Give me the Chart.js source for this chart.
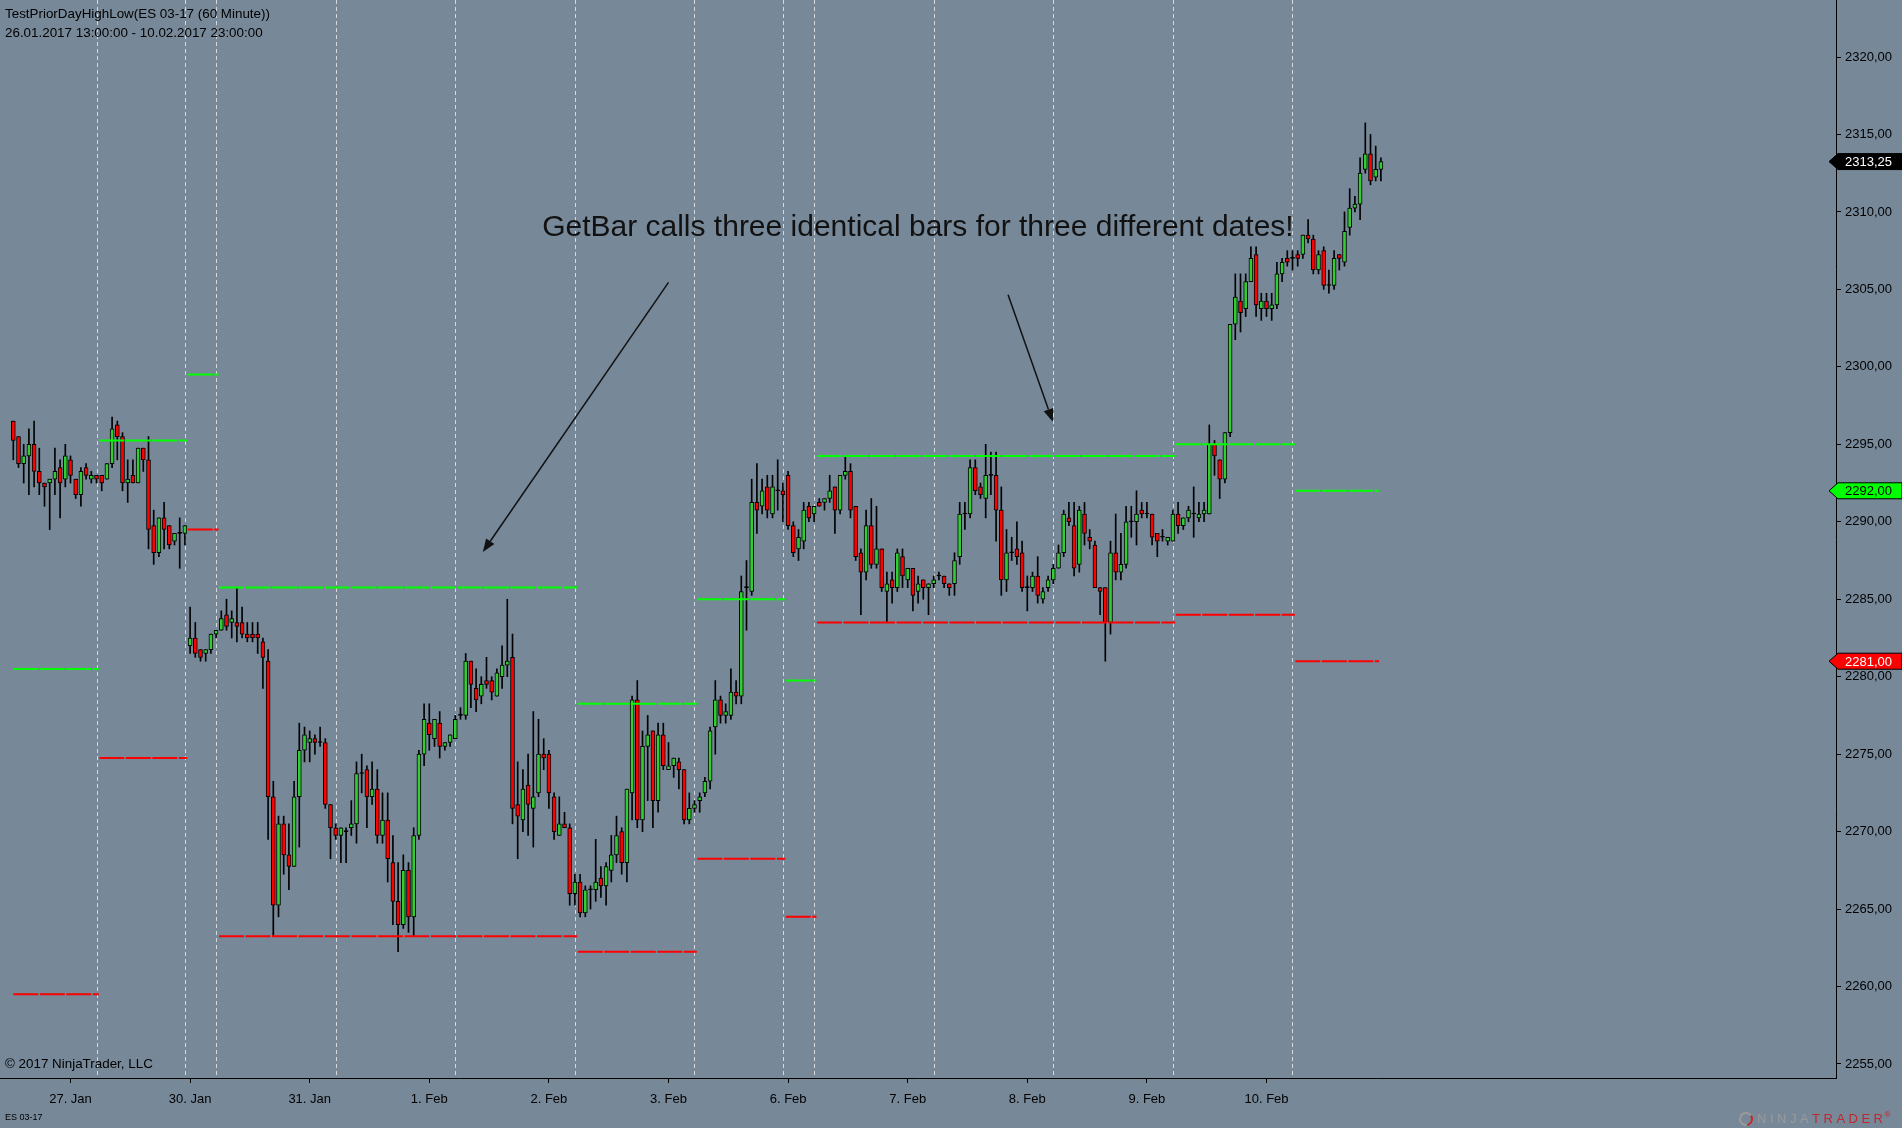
<!DOCTYPE html>
<html><head><meta charset="utf-8">
<script src="https://cdn.jsdelivr.net/npm/chart.js@4.4.1/dist/chart.umd.min.js"></script>
<style>html,body{margin:0;padding:0;background:#778899;overflow:hidden}canvas{display:block}</style>
</head><body>
<canvas id="c" width="1902" height="1128"></canvas>
<script>
// ---- data (ES 03-17, 60 minute bars, 26.01.2017 13:00 - 10.02.2017 23:00) ----
const opens = [
2296.5,2295.5,2293.75,2294.25,2295.0,2293.25,2292.5,2292.5,2292.75,2293.5,
2292.75,2294.0,2292.75,2291.75,2293.5,2292.75,2293.0,2293.0,2292.75,2293.75,
2296.25,2295.5,2292.5,2293.0,2292.5,2294.75,2294.0,2289.75,2288.0,2290.25,
2289.75,2288.75,2289.25,2289.25,2282.0,2282.5,2281.75,2281.5,2281.75,2282.75,
2283.0,2284.0,2283.5,2283.5,2283.5,2282.75,2282.75,2282.75,2282.25,2281.0,
2272.25,2265.25,2270.5,2268.5,2267.75,2272.25,2275.25,2275.75,2276.0,2275.75,
2275.75,2271.75,2270.25,2269.75,2270.0,2270.25,2270.5,2273.75,2274.0,2272.25,
2272.75,2269.75,2270.75,2268.0,2265.5,2264.0,2267.5,2264.5,2269.75,2275.0,
2277.0,2276.0,2277.0,2275.5,2275.75,2276.0,2277.5,2277.5,2281.0,2279.25,
2278.75,2279.75,2279.75,2278.75,2280.0,2280.75,2281.25,2271.75,2270.75,2273.0,
2271.5,2272.5,2275.0,2275.0,2272.25,2269.75,2270.5,2270.25,2266.0,2266.75,
2264.75,2266.25,2266.25,2267.0,2266.5,2267.5,2268.5,2270.0,2268.0,2272.5,
2278.5,2270.75,2275.5,2276.5,2272.0,2276.25,2274.0,2274.25,2274.5,2274.0,
2270.75,2271.5,2272.0,2272.5,2273.25,2276.75,2278.5,2277.5,2277.5,2279.0,
2278.75,2285.75,2285.5,2291.25,2291.0,2292.25,2290.5,2292.0,2292.0,2293.0,
2289.75,2288.25,2288.75,2291.0,2290.5,2291.25,2291.25,2291.5,2292.25,2290.75,
2293.0,2293.25,2291.0,2288.0,2286.75,2289.75,2287.25,2288.25,2285.5,2286.25,
2285.75,2287.75,2286.25,2287.0,2285.5,2286.25,2285.75,2286.0,2286.5,2286.5,
2286.0,2286.0,2287.75,2290.5,2290.5,2293.5,2292.25,2291.5,2293.0,2293.0,
2290.75,2286.25,2288.0,2288.25,2288.0,2285.75,2285.75,2286.5,2285.0,2285.75,
2286.25,2287.0,2288.0,2290.25,2289.75,2287.25,2290.5,2289.0,2288.5,2285.75,
2285.75,2283.5,2288.0,2286.75,2287.25,2290.0,2290.0,2290.75,2290.5,2290.5,
2289.25,2289.0,2288.75,2288.75,2290.5,2289.75,2290.25,2290.5,2290.25,2290.5,
2290.5,2295.0,2294.0,2292.75,2295.75,2302.75,2304.25,2303.75,2305.5,2307.25,
2303.75,2304.25,2303.75,2304.0,2306.0,2307.0,2307.0,2307.25,2307.25,2308.5,
2308.25,2306.25,2307.5,2305.25,2305.25,2307.25,2306.75,2309.0,2310.25,2310.5,
2312.75,2313.75,2312.25,2312.75];
const highs = [
2296.5,2295.5,2295.0,2296.0,2296.5,2294.75,2292.5,2292.75,2294.75,2294.0,
2295.0,2294.25,2292.75,2293.5,2293.75,2293.25,2293.0,2293.0,2293.75,2296.75,
2296.5,2295.75,2294.0,2294.0,2294.75,2294.75,2295.5,2290.75,2290.25,2291.25,
2289.75,2289.25,2290.25,2289.75,2284.5,2283.5,2281.75,2281.75,2282.75,2283.0,
2284.25,2285.0,2284.25,2285.75,2284.5,2283.5,2283.5,2283.5,2282.5,2281.75,
2273.25,2271.0,2271.0,2270.5,2273.25,2277.0,2276.75,2276.5,2276.25,2276.75,
2276.0,2271.75,2270.5,2270.25,2270.25,2272.0,2274.5,2275.0,2274.25,2274.5,
2274.0,2272.5,2272.5,2269.75,2268.0,2268.5,2268.0,2270.25,2275.25,2278.25,
2278.25,2277.25,2277.75,2275.75,2276.25,2277.5,2278.0,2281.5,2281.0,2280.5,
2280.0,2281.25,2280.0,2280.5,2282.0,2285.0,2282.75,2274.5,2274.0,2275.0,
2277.75,2277.25,2276.0,2275.25,2272.5,2272.25,2271.25,2270.5,2267.25,2267.25,
2266.5,2266.5,2269.5,2267.75,2268.0,2269.75,2271.0,2270.25,2272.75,2278.75,
2279.75,2276.5,2277.5,2276.5,2277.0,2277.0,2275.75,2274.75,2274.75,2274.0,
2272.5,2272.0,2272.5,2273.5,2276.75,2279.75,2278.75,2278.25,2280.5,2279.75,
2286.5,2287.5,2292.75,2293.75,2292.75,2293.0,2293.0,2294.0,2292.5,2293.25,
2290.0,2289.5,2291.25,2291.25,2291.0,2291.5,2291.5,2293.0,2292.25,2293.0,
2294.25,2293.75,2291.0,2288.25,2290.75,2291.5,2291.0,2288.25,2286.75,2286.75,
2288.25,2288.25,2287.0,2287.0,2286.5,2286.25,2286.0,2286.5,2286.75,2286.5,
2286.0,2288.0,2291.25,2291.25,2294.0,2294.0,2292.5,2295.0,2294.5,2294.5,
2292.25,2289.5,2289.0,2290.0,2288.75,2286.5,2286.75,2287.75,2285.75,2286.5,
2287.25,2288.5,2290.75,2291.25,2291.25,2291.0,2291.25,2289.5,2288.75,2285.75,
2285.75,2288.75,2290.5,2289.25,2291.0,2291.0,2292.0,2291.25,2291.25,2290.5,
2289.25,2289.5,2289.0,2290.75,2291.25,2290.25,2291.0,2292.25,2291.25,2291.25,
2296.25,2295.25,2294.0,2295.75,2302.75,2306.0,2306.0,2306.0,2307.75,2307.75,
2304.75,2304.75,2304.75,2306.75,2307.0,2307.5,2307.5,2307.5,2308.5,2309.5,
2308.5,2307.5,2307.75,2306.25,2307.5,2307.25,2310.0,2311.5,2311.0,2313.5,
2315.75,2315.0,2314.25,2313.5];
const lows = [
2294.0,2293.5,2292.5,2291.75,2292.25,2291.75,2291.0,2289.5,2291.75,2290.25,
2292.25,2292.5,2291.5,2291.0,2292.75,2292.5,2292.5,2292.0,2292.75,2293.5,
2294.0,2292.0,2291.25,2292.5,2292.5,2293.25,2288.25,2287.25,2287.75,2288.25,
2288.25,2288.5,2287.0,2288.5,2281.5,2281.25,2281.0,2281.0,2281.5,2282.5,
2283.0,2283.0,2282.5,2282.25,2282.5,2282.25,2282.25,2281.5,2279.25,2269.5,
2263.25,2264.5,2267.25,2266.25,2267.75,2269.0,2274.5,2274.5,2275.0,2275.5,
2271.5,2268.25,2269.5,2268.0,2268.0,2269.75,2269.25,2272.5,2270.25,2271.75,
2269.25,2269.25,2266.75,2264.0,2262.25,2263.75,2263.5,2263.25,2269.5,2274.25,
2275.25,2275.5,2274.75,2275.25,2275.5,2276.0,2277.25,2277.25,2278.0,2277.75,
2278.25,2279.25,2278.5,2278.75,2279.25,2280.0,2270.5,2268.25,2270.0,2269.75,
2269.0,2272.25,2274.0,2271.5,2269.5,2269.75,2270.25,2265.25,2265.25,2264.5,
2264.5,2265.0,2265.5,2265.75,2265.25,2266.75,2268.0,2267.25,2266.75,2270.75,
2270.25,2270.0,2272.0,2270.25,2271.25,2274.0,2274.0,2273.5,2272.75,2270.5,
2270.5,2271.25,2271.25,2272.25,2272.75,2275.0,2277.0,2277.0,2277.25,2278.25,
2278.25,2283.0,2285.25,2289.25,2290.5,2290.25,2290.25,2290.75,2290.0,2289.5,
2287.75,2287.5,2288.25,2290.0,2290.0,2291.0,2290.75,2291.25,2289.25,2290.5,
2292.75,2290.25,2287.5,2284.0,2286.25,2287.0,2287.0,2285.5,2283.5,2284.75,
2285.5,2285.75,2285.75,2284.25,2284.75,2285.0,2284.0,2285.75,2286.25,2285.75,
2285.25,2285.25,2287.25,2289.5,2290.25,2291.75,2291.5,2290.25,2291.75,2288.75,
2285.25,2285.5,2287.5,2287.25,2285.5,2284.25,2285.5,2284.75,2284.75,2285.5,
2286.0,2287.0,2287.75,2289.75,2286.5,2286.75,2288.5,2288.25,2285.75,2284.0,
2281.0,2282.75,2286.25,2286.25,2287.0,2289.0,2288.5,2290.25,2290.25,2288.5,
2287.75,2288.75,2288.5,2288.75,2289.25,2289.5,2290.0,2289.0,2290.0,2290.0,
2290.5,2293.0,2291.5,2292.5,2295.5,2301.75,2302.25,2303.25,2305.5,2303.25,
2303.0,2303.25,2303.0,2303.75,2305.5,2306.5,2306.25,2306.5,2307.0,2308.0,
2306.0,2306.0,2305.0,2304.75,2305.0,2306.25,2306.5,2308.5,2310.0,2309.5,
2312.5,2311.75,2312.0,2312.0];
const closes = [
2295.25,2293.75,2294.25,2295.0,2293.25,2292.5,2292.25,2292.75,2293.25,2292.5,
2294.25,2293.0,2291.75,2293.25,2293.0,2293.0,2292.75,2292.5,2293.75,2296.0,
2295.5,2292.5,2292.75,2292.5,2294.75,2294.0,2289.5,2288.0,2290.25,2289.5,
2288.5,2289.25,2289.25,2289.75,2282.5,2281.5,2281.25,2281.75,2282.75,2283.0,
2283.75,2283.25,2283.75,2283.25,2282.75,2282.5,2282.5,2282.5,2281.25,2272.25,
2265.25,2270.5,2268.5,2267.75,2272.25,2275.25,2276.25,2276.0,2275.75,2275.75,
2271.75,2270.25,2269.75,2270.25,2270.0,2270.5,2273.75,2273.75,2272.25,2272.75,
2269.75,2270.75,2268.25,2265.5,2264.0,2267.5,2264.5,2269.75,2275.0,2277.25,
2276.25,2277.25,2275.5,2275.75,2276.25,2277.25,2277.5,2281.0,2279.5,2278.5,
2279.5,2279.5,2279.0,2280.25,2280.75,2281.0,2271.5,2271.0,2272.75,2271.75,
2272.25,2275.0,2274.75,2272.5,2270.0,2270.5,2270.25,2266.0,2266.75,2264.75,
2266.25,2266.25,2266.75,2266.5,2267.75,2268.5,2269.75,2268.0,2272.75,2278.5,
2270.75,2275.5,2276.25,2272.0,2276.25,2274.25,2274.25,2274.75,2274.0,2270.75,
2271.5,2271.75,2272.25,2273.25,2276.5,2278.5,2277.5,2277.75,2279.0,2278.75,
2285.5,2285.75,2291.25,2290.75,2292.0,2290.75,2292.25,2292.0,2291.75,2289.75,
2288.0,2289.0,2290.75,2290.25,2291.0,2291.0,2291.5,2292.0,2290.75,2293.0,
2293.25,2290.75,2287.75,2286.75,2289.75,2287.25,2288.25,2285.75,2286.0,2285.75,
2288.0,2286.5,2287.0,2285.25,2286.0,2285.75,2286.0,2286.25,2286.5,2286.0,
2285.75,2287.5,2290.5,2290.5,2293.5,2292.0,2291.75,2293.0,2293.0,2290.75,
2286.25,2288.0,2288.0,2287.75,2285.75,2285.75,2286.5,2285.25,2285.5,2286.25,
2287.0,2288.0,2290.5,2290.0,2287.0,2290.75,2289.25,2288.75,2285.75,2285.5,
2283.5,2288.0,2286.75,2287.25,2290.0,2290.0,2290.5,2290.5,2290.5,2289.0,
2288.75,2289.0,2289.0,2290.5,2289.75,2290.25,2290.75,2290.5,2290.5,2290.75,
2295.0,2294.25,2292.75,2295.75,2302.75,2304.5,2303.5,2305.5,2307.0,2304.0,
2304.25,2303.75,2304.0,2306.0,2306.75,2306.75,2307.0,2307.0,2308.5,2308.25,
2306.25,2307.25,2305.25,2305.25,2307.0,2307.0,2308.75,2310.25,2310.5,2312.5,
2313.75,2312.0,2312.75,2313.25];

const dateLabels  = ['27. Jan','30. Jan','31. Jan','1. Feb','2. Feb','3. Feb','6. Feb','7. Feb','8. Feb','9. Feb','10. Feb'];
const dateTickIdx = [11,34,57,80,103,126,149,172,195,218,241];
const sessionBreaks = [16,33,39,62,85,108,131,148,154,177,200,223,246];
const segFrom    = [0,16,33,39,108,131,148,154,223,246];
const segTo      = [16,33,39,108,131,148,154,223,246,263];
const priorHighs = [2280.5,2295.25,2299.5,2285.75,2278.25,2285.0,2279.75,2294.25,2295.0,2292.0];
const priorLows  = [2259.5,2274.75,2289.5,2263.25,2262.25,2268.25,2264.5,2283.5,2284.0,2281.0];
const yTicks = [2255,2260,2265,2270,2275,2280,2285,2290,2295,2300,2305,2310,2315,2320];

const noteText = 'GetBar calls three identical bars for three different dates!';
const noteAt = {x:101.7, y:2308.95};
const arrows = [
  {from:{x:126.0,y:2305.45}, to:{x:90.3,y:2288.05}},
  {from:{x:191.3,y:2304.65}, to:{x:199.9,y:2296.45}}
];

// ---- styling ----
const FONT = '"Liberation Sans", Arial, sans-serif';
const BG = '#778899';
const UP = '#32cd32', DOWN = '#ff0000';

function levelData(levels){
  const d = [];
  levels.forEach((v,k)=>{
    const a = k===0 ? segFrom[k] : segFrom[k] + 0.55;
    const b = k===levels.length-1 ? segTo[k] - 0.35 : segTo[k] + 0.45;
    d.push({x:a,y:v},{x:b,y:v},{x:b,y:null});
  });
  return d;
}

const bodyData = opens.map((o,i)=>({x:i, y:[o, closes[i]]}));
const wickData = highs.map((h,i)=>({x:i, y:[lows[i], h]}));

const bgPlugin = {
  id:'bg',
  beforeDraw(chart){
    const c = chart.ctx; c.save(); c.fillStyle = BG; c.fillRect(0,0,chart.width,chart.height); c.restore();
  }
};

const sessionPlugin = {
  id:'sessions',
  beforeDatasetsDraw(chart){
    const {ctx, chartArea, scales:{x}} = chart;
    ctx.save();
    ctx.strokeStyle = 'rgba(230,230,230,0.85)';
    ctx.lineWidth = 1;
    ctx.setLineDash([4,3]);
    sessionBreaks.forEach(i=>{
      const px = Math.round(x.getPixelForValue(i)) + 0.5;
      ctx.beginPath(); ctx.moveTo(px, chartArea.top); ctx.lineTo(px, chartArea.bottom); ctx.stroke();
    });
    ctx.restore();
  }
};

function drawArrow(ctx, x1, y1, x2, y2){
  const a = Math.atan2(y2-y1, x2-x1), L = 13, W = 5;
  const bx = x2 - L*Math.cos(a), by = y2 - L*Math.sin(a);
  ctx.beginPath(); ctx.moveTo(x1,y1); ctx.lineTo(bx,by); ctx.stroke();
  ctx.beginPath();
  ctx.moveTo(x2,y2);
  ctx.lineTo(bx + W*Math.sin(a), by - W*Math.cos(a));
  ctx.lineTo(bx - W*Math.sin(a), by + W*Math.cos(a));
  ctx.closePath(); ctx.fill();
}

function priceTag(ctx, yPix, text, fill, color){
  const h = 8, xl = 1829, xr = 1902;
  ctx.beginPath();
  ctx.moveTo(xl, yPix);
  ctx.lineTo(xl+9, yPix-h);
  ctx.lineTo(xr, yPix-h);
  ctx.lineTo(xr, yPix+h);
  ctx.lineTo(xl+9, yPix+h);
  ctx.closePath();
  ctx.fillStyle = fill; ctx.fill();
  ctx.strokeStyle = '#000'; ctx.lineWidth = 1; ctx.stroke();
  ctx.fillStyle = color; ctx.font = '13px ' + FONT;
  ctx.textAlign = 'left'; ctx.textBaseline = 'middle';
  ctx.fillText(text, 1845, yPix + 1);
}

const fmt = v => v.toFixed(2).replace('.', ',');

const overlayPlugin = {
  id:'overlay',
  afterDatasetsDraw(chart){
    const {ctx, scales:{x,y}} = chart;
    ctx.save();
    ctx.fillStyle = '#111'; ctx.strokeStyle = '#111'; ctx.lineWidth = 1.5;
    ctx.font = '30px ' + FONT; ctx.textAlign = 'left'; ctx.textBaseline = 'middle';
    ctx.fillText(noteText, x.getPixelForValue(noteAt.x), y.getPixelForValue(noteAt.y));
    arrows.forEach(a=>drawArrow(ctx, x.getPixelForValue(a.from.x), y.getPixelForValue(a.from.y),
                                     x.getPixelForValue(a.to.x), y.getPixelForValue(a.to.y)));
    ctx.restore();
  },
  afterDraw(chart){
    const {ctx, scales:{y}} = chart;
    ctx.save();
    ctx.fillStyle = '#000'; ctx.textAlign = 'left'; ctx.textBaseline = 'middle';
    ctx.font = '13.4px ' + FONT;
    ctx.fillText('TestPriorDayHighLow(ES 03-17 (60 Minute))', 5, 14);
    ctx.fillText('26.01.2017 13:00:00 - 10.02.2017 23:00:00', 5, 33);
    ctx.fillText('\u00A9 2017 NinjaTrader, LLC', 5, 1064);
    ctx.font = '9px ' + FONT;
    ctx.fillText('ES 03-17', 5, 1118);
    // logo
    ctx.strokeStyle = '#9a9a9a'; ctx.lineWidth = 2;
    ctx.beginPath(); ctx.arc(1746, 1119, 6, 0, Math.PI*2); ctx.stroke();
    ctx.strokeStyle = '#c1272d'; ctx.beginPath(); ctx.arc(1746, 1119, 6, -0.6, 1.4); ctx.stroke();
    ctx.font = '13px ' + FONT;
    if ('letterSpacing' in ctx) ctx.letterSpacing = '3.5px';
    ctx.fillStyle = '#9a9a9a'; ctx.fillText('NINJA', 1757, 1119);
    const w = ctx.measureText('NINJA').width;
    ctx.fillStyle = '#c1272d'; ctx.fillText('TRADER', 1757 + w, 1119);
    const w2 = ctx.measureText('TRADER').width;
    if ('letterSpacing' in ctx) ctx.letterSpacing = '0px';
    ctx.font = '8px ' + FONT; ctx.fillText('\u00AE', 1757 + w + w2 - 2, 1115);
    // price tags
    priceTag(ctx, y.getPixelForValue(closes[closes.length-1]), fmt(closes[closes.length-1]), '#000', '#fff');
    priceTag(ctx, y.getPixelForValue(priorHighs[priorHighs.length-1]), fmt(priorHighs[priorHighs.length-1]), '#00ff00', '#000');
    priceTag(ctx, y.getPixelForValue(priorLows[priorLows.length-1]), fmt(priorLows[priorLows.length-1]), '#ff0000', '#fff');
    ctx.restore();
  }
};

function zeroPad(s){ s.paddingLeft = 0; s.paddingRight = 0; s.paddingTop = 0; s.paddingBottom = 0; }

new Chart(document.getElementById('c').getContext('2d'), {
  type:'bar',
  data:{ datasets:[
    { type:'line', data: levelData(priorHighs), borderColor:'#00ff00', borderWidth:2, borderDash:[25,1.5],
      pointRadius:0, spanGaps:false, tension:0, order:0 },
    { type:'line', data: levelData(priorLows), borderColor:'#ff0000', borderWidth:2, borderDash:[25,1.5],
      pointRadius:0, spanGaps:false, tension:0, order:0 },
    { type:'bar', data: bodyData,
      backgroundColor: c => { const i = c.dataIndex; return closes[i] > opens[i] ? UP : (closes[i] < opens[i] ? DOWN : '#000'); },
      borderColor:'#000', borderWidth:1, borderSkipped:false, barThickness:4, minBarLength:1, grouped:false, order:1 },
    { type:'bar', data: wickData, backgroundColor:'#000', borderWidth:0, barThickness:1, grouped:false, order:2 }
  ]},
  options:{
    responsive:false, animation:false, devicePixelRatio:1, events:[],
    layout:{padding:0},
    plugins:{legend:{display:false}, tooltip:{enabled:false}, title:{display:false}},
    scales:{
      x:{ type:'linear', position:'bottom', min:-2.558, max:350.52, offset:false, bounds:'data',
          grid:{offset:false, drawOnChartArea:false, drawTicks:true, tickLength:5, color:'#000'},
          border:{display:true, color:'#000', width:1},
          ticks:{autoSkip:false, maxRotation:0, color:'#000', font:{family:FONT, size:13}, padding:9,
                 callback:v=>{ const k = dateTickIdx.indexOf(v); return k>=0 ? dateLabels[k] : ''; }},
          afterBuildTicks:s=>{ s.ticks = dateTickIdx.map(v=>({value:v})); },
          afterFit:s=>{ s.height = 50; zeroPad(s); } },
      y:{ type:'linear', position:'right', min:2254.096, max:2323.68, bounds:'data',
          grid:{offset:false, drawOnChartArea:false, drawTicks:true, tickLength:5, color:'#000'},
          border:{display:true, color:'#000', width:1},
          ticks:{color:'#000', font:{family:FONT, size:13}, padding:4, callback:v=>fmt(v)},
          afterBuildTicks:s=>{ s.ticks = yTicks.map(v=>({value:v})); },
          afterFit:s=>{ s.width = 66; zeroPad(s); } }
    }
  },
  plugins:[bgPlugin, sessionPlugin, overlayPlugin]
});
</script>
</body></html>
